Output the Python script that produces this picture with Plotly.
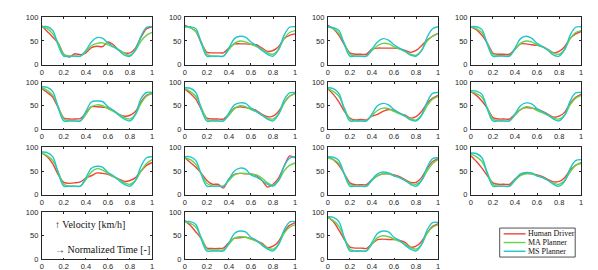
import plotly.graph_objects as go

t = [0, 0.05, 0.1, 0.15, 0.2, 0.25, 0.3, 0.35, 0.4, 0.45, 0.5,
     0.55, 0.6, 0.65, 0.7, 0.75, 0.8, 0.85, 0.9, 0.95, 1.0]

series_names = ["Human Driver", "MA Planner", "MS Planner"]
series_colors = ["#ec4539", "#66d448", "#22c5cc"]

# Panel order: row by row; cells (row, col) with data
panel_cells = [(0, 0), (0, 1), (0, 2), (0, 3),
               (1, 0), (1, 1), (1, 2), (1, 3),
               (2, 0), (2, 1), (2, 2), (2, 3),
               (3, 1), (3, 2)]

hd = [
    [82,70,58,45,22,16,23,21,25,36,39,38,48,42,30,25,25,35,58,76,80],
    [83,78,70,45,26,25,25,25,35,44,44,44,43,42,35,28,30,38,55,62,65],
    [83,76,62,42,25,22,22,22,33,35,35,35,35,34,30,26,30,40,52,60,66],
    [80,74,62,45,24,22,22,22,33,44,44,42,41,38,32,25,28,38,55,65,70],
    [86,78,68,45,24,22,22,23,35,48,48,47,46,40,32,28,30,38,58,72,76],
    [85,76,64,42,24,22,22,22,32,45,48,46,44,40,32,27,28,38,56,70,76],
    [86,74,58,38,24,20,21,20,28,32,38,42,40,34,30,24,27,38,55,66,72],
    [80,72,60,44,25,22,22,22,32,42,46,45,43,38,32,26,28,36,55,68,74],
    [88,80,65,42,26,24,25,27,35,40,46,45,43,38,33,28,30,36,50,62,68],
    [78,68,58,45,30,22,22,14,33,43,45,44,44,40,30,16,22,35,60,82,78],
    [80,74,62,44,25,21,21,21,32,40,44,44,42,38,32,26,26,36,55,70,76],
    [82,70,56,40,25,22,22,22,33,42,45,44,42,38,32,27,28,36,52,62,66],
    [82,72,58,44,24,23,23,24,36,45,46,47,44,40,34,25,28,38,58,72,78],
    [90,80,62,42,26,24,24,23,33,42,43,42,42,40,36,26,28,38,56,70,75],
]
ma = [
    [80,76,65,45,22,18,18,18,28,40,45,46,42,37,32,24,20,30,50,62,68],
    [80,78,70,48,22,18,18,18,32,45,50,48,43,38,32,25,22,32,55,68,72],
    [80,76,66,45,22,18,18,18,30,40,45,44,38,33,28,22,20,30,50,60,66],
    [80,76,68,45,22,19,19,19,32,45,50,48,42,37,32,24,22,32,55,68,72],
    [88,82,72,48,22,18,18,18,32,48,52,50,44,38,32,25,22,32,55,70,76],
    [86,80,70,46,22,18,18,18,30,44,50,48,42,37,30,24,22,32,55,70,76],
    [86,80,70,45,22,18,18,18,30,40,45,44,38,33,28,22,20,30,50,64,70],
    [80,76,68,45,22,18,18,18,30,42,48,46,40,35,30,24,22,30,52,66,72],
    [88,82,72,48,22,18,18,18,32,48,55,52,45,38,32,25,22,30,50,66,74],
    [78,74,64,44,24,18,18,18,30,42,45,45,43,42,35,25,20,30,50,62,67],
    [78,74,66,44,22,18,18,18,30,40,44,44,40,36,30,24,22,30,50,66,74],
    [86,80,70,46,22,18,18,18,30,40,44,44,40,36,30,24,22,30,48,62,68],
    [80,76,68,46,22,20,20,20,32,45,48,47,43,38,32,24,22,32,55,68,73],
    [88,82,70,46,22,18,18,18,32,46,50,48,43,38,32,25,22,32,55,68,73],
]
ms = [
    [80,80,72,40,18,18,18,18,30,48,57,56,46,38,30,20,18,32,60,79,80],
    [80,80,76,45,18,18,18,18,35,55,60,58,48,40,30,22,18,32,62,79,80],
    [80,78,72,42,18,18,18,18,33,48,55,52,42,35,28,20,18,30,58,76,80],
    [80,80,74,42,18,18,18,18,35,55,60,56,45,38,30,20,18,32,62,79,80],
    [90,89,80,45,18,18,18,18,38,58,60,59,48,40,30,22,18,32,65,78,78],
    [88,87,78,42,18,18,18,18,35,52,56,55,45,38,30,22,18,32,62,77,78],
    [88,86,76,42,18,18,18,18,33,50,55,52,42,35,28,20,18,30,58,76,78],
    [82,81,74,42,18,18,18,18,33,50,56,54,44,37,30,22,18,30,60,77,78],
    [90,89,80,45,18,18,18,18,36,56,60,58,47,40,30,22,18,30,60,78,80],
    [80,80,72,42,18,18,18,18,33,50,56,54,42,37,30,22,18,30,60,77,80],
    [80,79,72,42,18,18,18,18,32,44,48,46,40,36,30,22,18,30,58,76,78],
    [88,87,78,44,18,18,18,18,32,44,47,46,40,36,30,22,18,28,55,72,74],
    [80,80,74,42,18,18,18,18,35,55,60,58,47,40,30,22,18,32,62,79,80],
    [90,89,80,45,18,18,18,18,36,55,60,58,47,40,30,22,18,32,62,78,78],
]

x_ticks = [0, 0.2, 0.4, 0.6, 0.8, 1]
x_ticklabels = ["0", "0.2", "0.4", "0.6", "0.8", "1"]
y_ticks = [0, 50, 100]
y_ticklabels = ["0", "50", "100"]

note_lines = ["\u2191 Velocity [km/h]", "\u2192 Normalized Time [-]"]

W, H = 598, 270
col_left = [32, 176, 320, 464]
ax_w = 111
row_top = [5.5, 72.5, 140, 207]
ax_h = 49

AXC = "#262626"
tickfont = dict(family="Liberation Sans, Arial, sans-serif", size=7.5, color=AXC)

fig = go.Figure()
layout = {}

def add_axes(idx, r, c):
    xname = "xaxis" if idx == 1 else f"xaxis{idx}"
    yname = "yaxis" if idx == 1 else f"yaxis{idx}"
    x0 = col_left[c] / W
    x1 = (col_left[c] + ax_w) / W
    y1 = 1 - row_top[r] / H
    y0 = 1 - (row_top[r] + ax_h) / H
    common = dict(showline=True, linecolor=AXC, linewidth=0.8, mirror="ticks",
                  ticks="inside", ticklen=2, tickwidth=0.8, tickcolor=AXC,
                  showgrid=False, zeroline=False, tickfont=tickfont,
                  fixedrange=True)
    layout[xname] = dict(domain=[x0, x1], range=[0, 1], tickvals=x_ticks,
                         ticktext=x_ticklabels, anchor=f"y{idx}" if idx > 1 else "y",
                         ticklabelstandoff=0, **common)
    layout[yname] = dict(domain=[y0, y1], range=[0, 100], tickvals=y_ticks,
                         ticktext=y_ticklabels, anchor=f"x{idx}" if idx > 1 else "x",
                         ticklabelstandoff=1, **common)

for i, (r, c) in enumerate(panel_cells):
    idx = i + 1
    add_axes(idx, r, c)
    xr = "x" if idx == 1 else f"x{idx}"
    yr = "y" if idx == 1 else f"y{idx}"
    for name, color, data, sm in zip(series_names, series_colors,
                                      [hd[i], ma[i], ms[i]], [0.6, 1.0, 1.0]):
        fig.add_trace(go.Scatter(x=t, y=data, mode="lines", name=name,
                                 line=dict(color=color, width=1.4, shape="spline",
                                           smoothing=sm),
                                 xaxis=xr, yaxis=yr, showlegend=False,
                                 hoverinfo="skip"))

# text cell axes
tidx = len(panel_cells) + 1
add_axes(tidx, 3, 0)
fig.add_trace(go.Scatter(x=[None], y=[None], xaxis=f"x{tidx}", yaxis=f"y{tidx}",
                         showlegend=False, hoverinfo="skip"))

annotations = []
serif = dict(family="Liberation Serif, Times New Roman, serif", size=10, color="#111111")
for txt, yv in zip(note_lines, [73, 20]):
    annotations.append(dict(x=0.1, y=yv, xref=f"x{tidx}", yref=f"y{tidx}",
                            text=txt, showarrow=False, xanchor="left",
                            yanchor="middle", font=serif))

# manual legend (compact, MATLAB-like)
shapes = []
lx0, lx1, ly0, ly1 = 493, 569, 223.5, 253.5
shapes.append(dict(type="rect", xref="paper", yref="paper",
                   x0=lx0 / W, x1=lx1 / W, y0=1 - ly1 / H, y1=1 - ly0 / H,
                   line=dict(color=AXC, width=0.8), fillcolor="white"))
for k, (name, color) in enumerate(zip(series_names, series_colors)):
    yy = 229.5 + 9 * k
    shapes.append(dict(type="line", xref="paper", yref="paper",
                       x0=497 / W, x1=519 / W, y0=1 - yy / H, y1=1 - yy / H,
                       line=dict(color=color, width=1.4)))
    annotations.append(dict(x=520 / W, y=1 - yy / H, xref="paper", yref="paper",
                            text=name, showarrow=False, xanchor="left",
                            yanchor="middle", borderpad=0,
                            font=dict(family="Liberation Serif, Times New Roman, serif",
                                      size=8, color="#111111")))

fig.update_layout(width=W, height=H, margin=dict(l=0, r=0, t=0, b=0),
                  paper_bgcolor="white", plot_bgcolor="white",
                  showlegend=False, annotations=annotations, shapes=shapes,
                  **layout)

fig.write_html("out.html")
